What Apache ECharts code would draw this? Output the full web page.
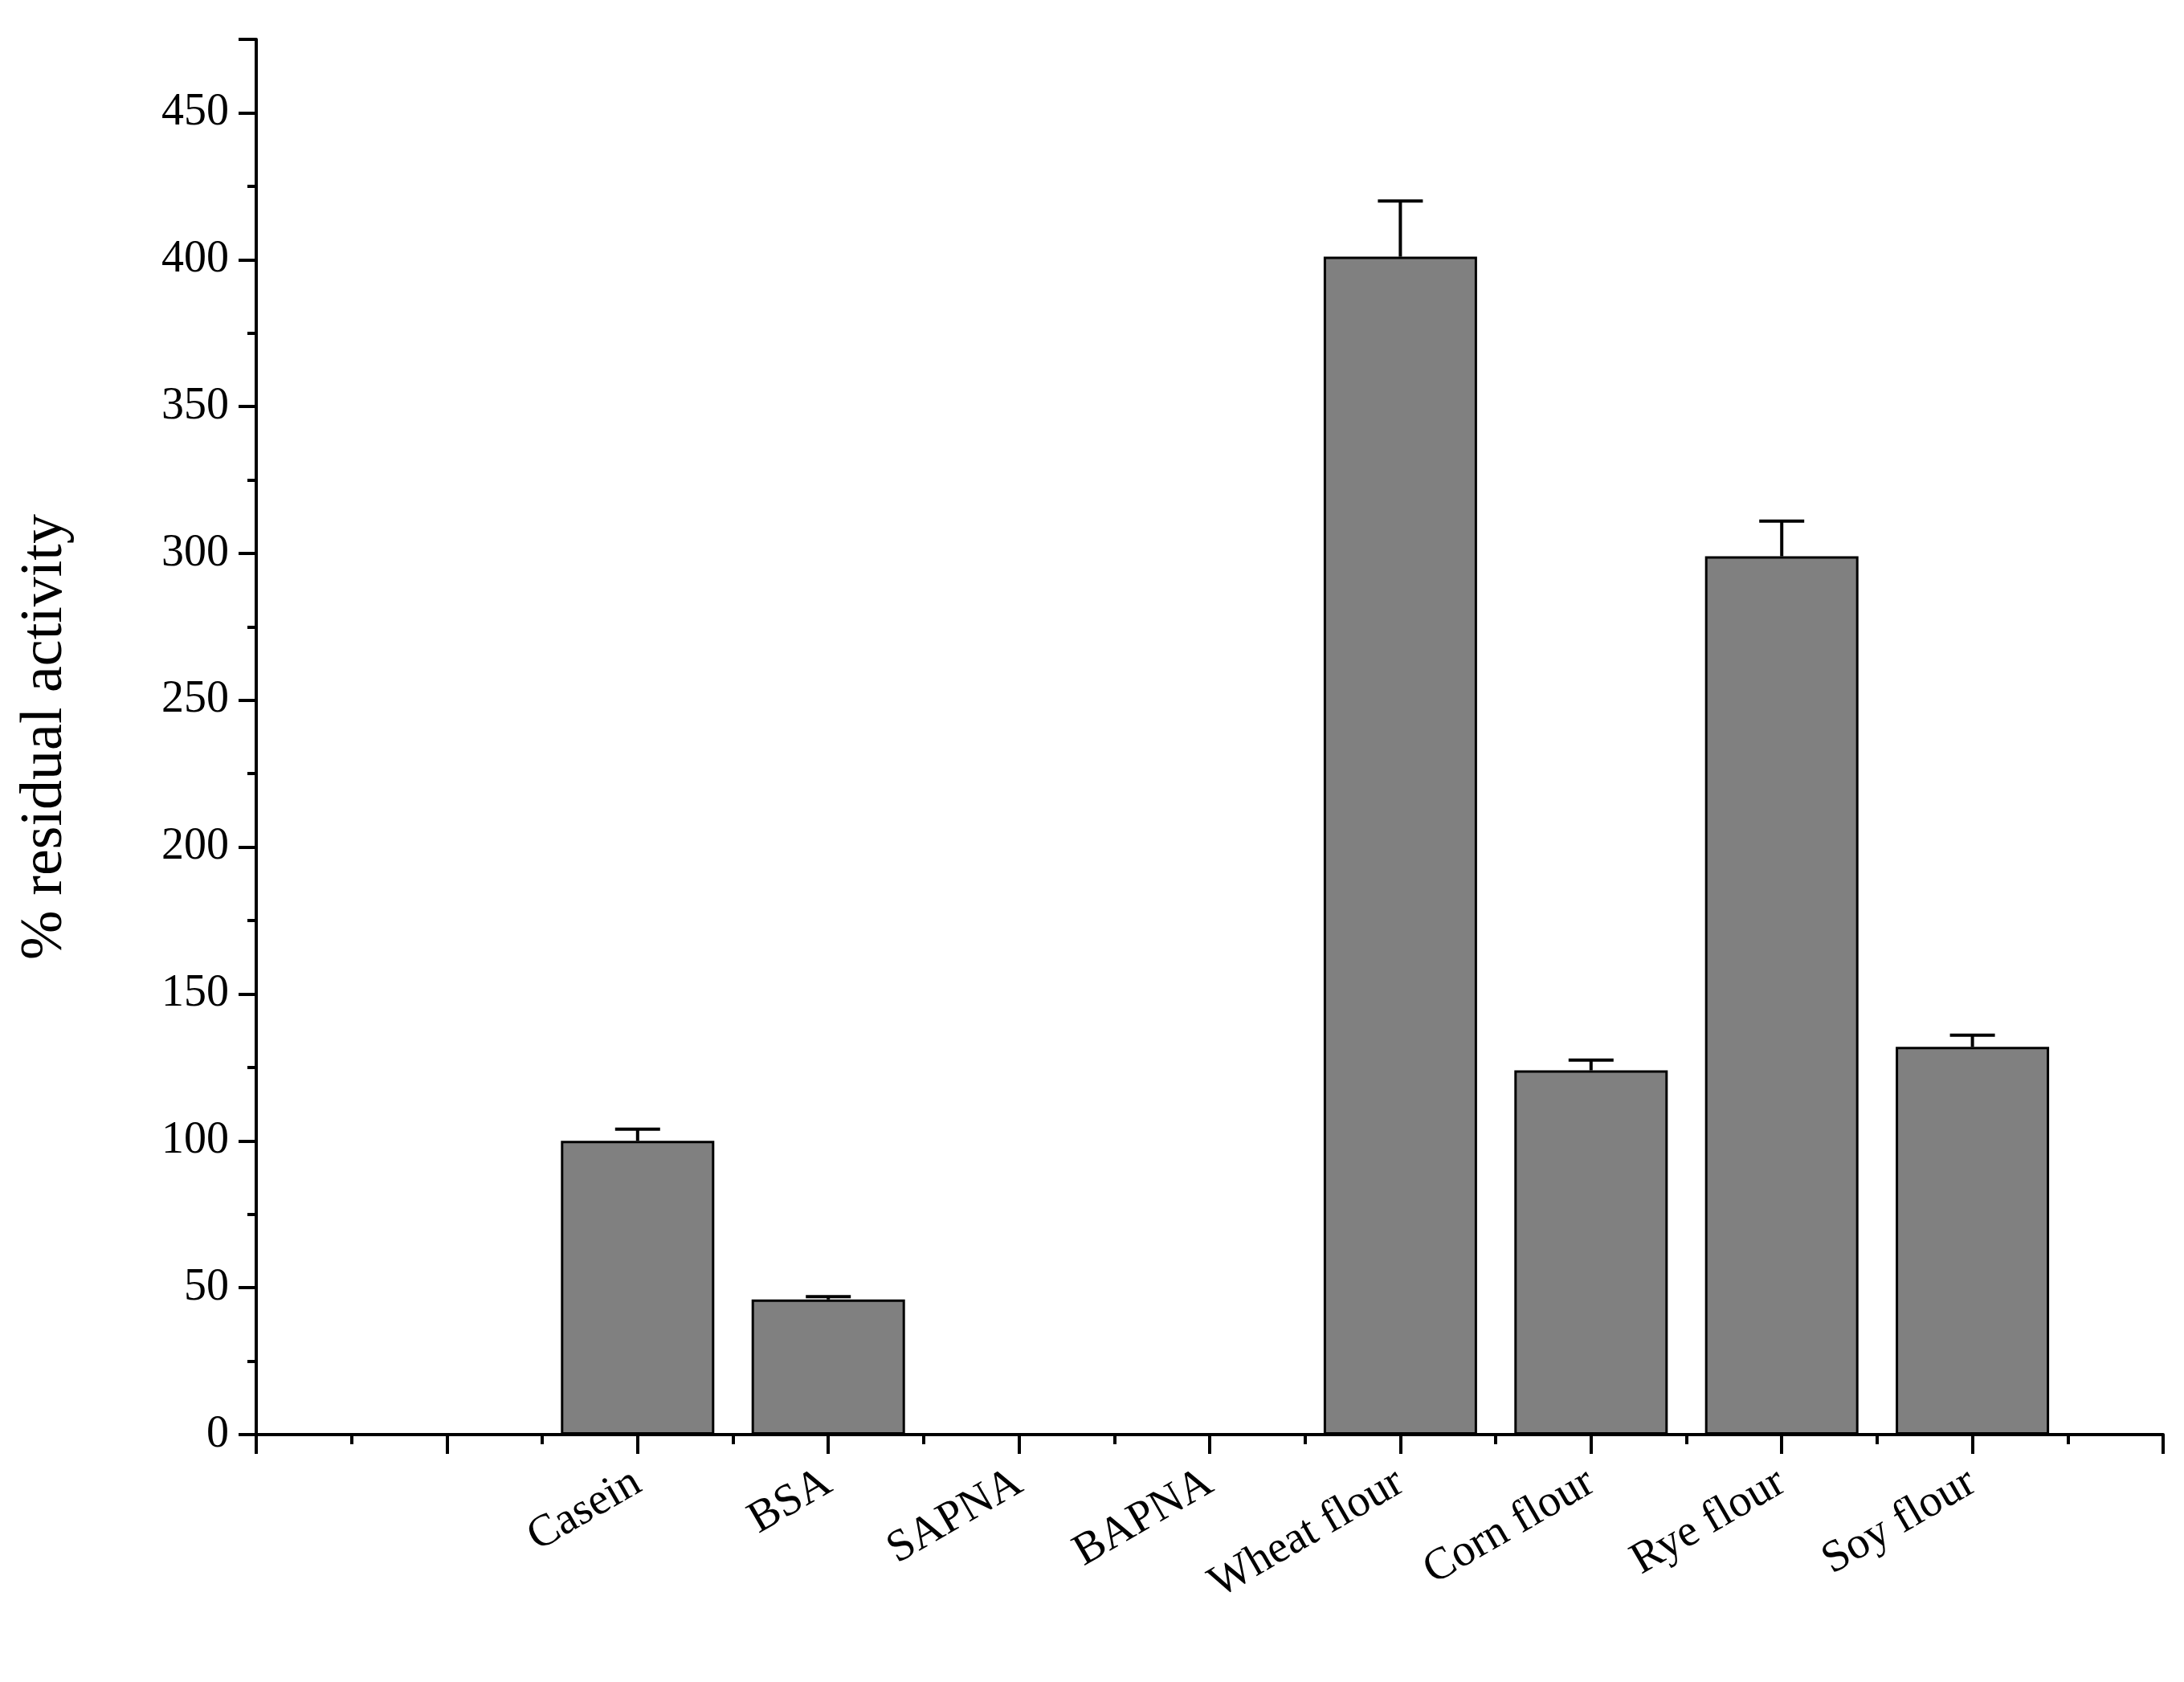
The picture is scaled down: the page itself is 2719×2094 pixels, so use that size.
<!DOCTYPE html>
<html><head><meta charset="utf-8">
<script src="https://cdn.jsdelivr.net/npm/echarts@6/dist/echarts.min.js"></script>
<style>html,body{margin:0;background:#fff}#c{width:2719px;height:2094px}</style>
</head><body><div id="c"></div>
<script>
const slotLabels = ['', '', 'Casein', 'BSA', 'SAPNA', 'BAPNA', 'Wheat flour', 'Corn flour', 'Rye flour', 'Soy flour', ''];
const categories = ['Casein', 'BSA', 'SAPNA', 'BAPNA', 'Wheat flour', 'Corn flour', 'Rye flour', 'Soy flour'];
const slots = [2, 3, 4, 5, 6, 7, 8, 9];
const values = [100, 46, 0, 0, 401, 124, 299, 132];
const errors = [4, 1, 0, 0, 19, 3.5, 12, 4];
const yTicks = [0, 50, 100, 150, 200, 250, 300, 350, 400, 450];

const font = 'Liberation Serif';
const chart = echarts.init(document.getElementById('c'));
const barData = slots.map((s, i) => [s, values[i]]);
const errData = slots.map((s, i) => [s, values[i], values[i] + errors[i]]).filter(d => d[2] > d[1]);
chart.setOption({
  animation: false,
  grid: {left: 319, right: 26, top: 49, bottom: 308},
  xAxis: {
    type: 'value', min: 0, max: 10, interval: 1,
    axisLine: {show: true, lineStyle: {color: '#000', width: 4}, onZero: false},
    axisTick: {show: true, length: 24, lineStyle: {color: '#000', width: 4}},
    minorTick: {show: true, splitNumber: 2, length: 12, lineStyle: {color: '#000', width: 4}},
    splitLine: {show: false},
    axisLabel: {formatter: v => slotLabels[v] || '', rotate: 30, margin: 56,
      fontFamily: font, fontSize: 56, color: '#000'}
  },
  yAxis: {
    type: 'value', min: 0, max: 475, interval: 50,
    name: '% residual activity', nameLocation: 'middle', nameGap: 225,
    nameTextStyle: {fontFamily: font, fontSize: 74, color: '#000'},
    axisLine: {show: true, lineStyle: {color: '#000', width: 4}},
    axisTick: {show: true, length: 22, lineStyle: {color: '#000', width: 4}},
    minorTick: {show: true, splitNumber: 2, length: 11, lineStyle: {color: '#000', width: 4}},
    splitLine: {show: false},
    axisLabel: {formatter: v => yTicks.includes(v) ? String(v) : '', margin: 34,
      fontFamily: font, fontSize: 56, color: '#000'}
  },
  series: [
    {type: 'bar', data: barData, barWidth: 191,
     itemStyle: {color: '#808080', borderColor: '#000', borderWidth: 3}},
    {type: 'custom', data: errData, z: 1,
     renderItem: (params, api) => {
       const x = api.value(0);
       const b = api.coord([x, api.value(1)]);
       const t = api.coord([x, api.value(2)]);
       const hw = 28;
       const st = {stroke: '#000', lineWidth: 4};
       return {type: 'group', children: [
         {type: 'line', shape: {x1: b[0], y1: b[1], x2: t[0], y2: t[1]}, style: st},
         {type: 'line', shape: {x1: t[0] - hw, y1: t[1], x2: t[0] + hw, y2: t[1]}, style: st}
       ]};
     }}
  ]
});
</script></body></html>
